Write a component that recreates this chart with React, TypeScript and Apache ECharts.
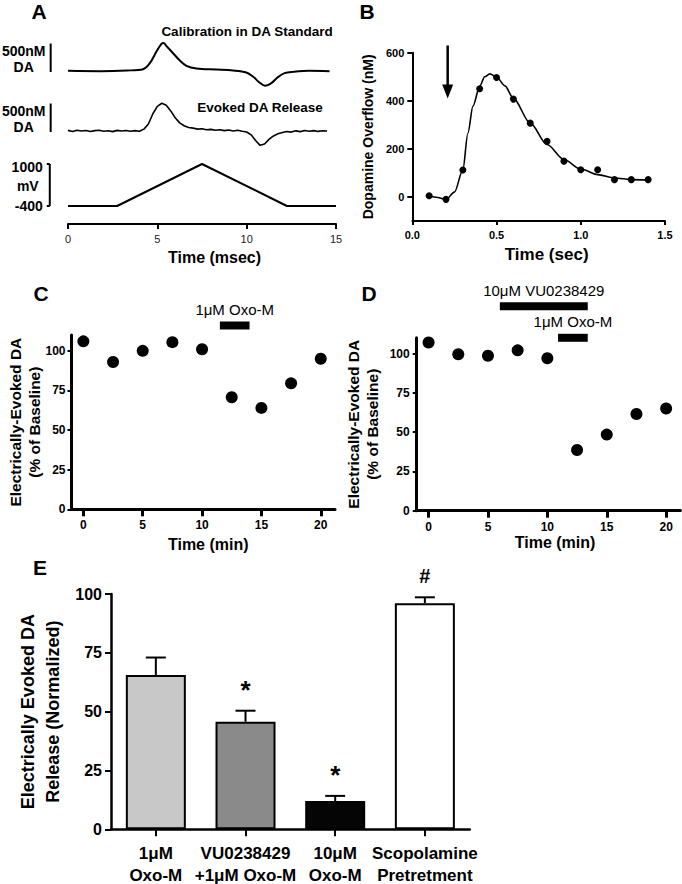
import React, { useEffect, useRef } from "react";
import * as echarts from "echarts";

const FONT = '"Liberation Sans", Arial, Helvetica, sans-serif';
const BLACK = "#000000";

// ---------------- Panel A (FSCV traces) ----------------
const calibTimeMs = [0, 1.8, 3.3, 4.2, 4.58, 4.95, 5.23, 5.35, 5.5, 5.88, 6.26, 6.63, 7.19, 8.3, 9.24, 9.98, 10.35, 10.7, 11.04, 11.38, 11.75, 12.12, 12.6, 13.5, 14.64];
const calibDA_nM = [0, -6, 6, 29, 134, 339, 474, 490, 439, 310, 181, 88, 41, 23, 6, -29, -99, -199, -263, -216, -111, -41, -18, 0, -6];
const evokedTimeMs = [0, 0.25, 0.5, 0.75, 1, 1.25, 1.5, 1.75, 2, 2.25, 2.5, 2.75, 3, 3.25, 3.5, 3.75, 4, 4.25, 4.5, 4.75, 5, 5.25, 5.5, 5.75, 6, 6.25, 6.5, 6.75, 7, 7.25, 7.5, 7.75, 8, 8.25, 8.5, 8.75, 9, 9.25, 9.5, 9.75, 10, 10.25, 10.5, 10.75, 11, 11.25, 11.5, 11.75, 12, 12.25, 12.5, 12.75, 13, 13.25, 13.5, 13.75, 14, 14.25, 14.5];
const evokedDA_nM = [8, -10, 12, -4, 6, -12, 4, 10, -6, 2, -14, 8, -2, 6, -8, 4, -6, 30, 120, 300, 430, 485, 450, 350, 230, 140, 90, 60, 48, 30, 38, 18, 26, 10, 20, 4, 14, -2, 10, -6, -20, -70, -170, -255, -230, -150, -90, -50, -30, -12, -22, 0, -14, 6, -8, 4, -10, 2, -4];
const rampTimeMs = [0, 2.75, 7.5, 12.25, 15];
const rampVoltage_mV = [-400, -400, 1000, -400, -400];
const scaleBarTimeMs = -0.97;
const daScaleBar_nM = [-20, 480];
const voltageScaleBar_mV = [-400, 1000];

// ---------------- Panel B (overflow vs time) ----------------
const overflowTimeSec = [0.1, 0.2, 0.3, 0.4, 0.5, 0.6, 0.7, 0.8, 0.9, 1.0, 1.1, 1.2, 1.3, 1.4];
const overflow_nM = [5, -10, 112, 450, 497, 407, 307, 232, 149, 113, 113, 72, 72, 72];
const fitTimeSec = [0.1, 0.15, 0.2, 0.25, 0.3, 0.33, 0.36, 0.4, 0.43, 0.46, 0.5, 0.55, 0.6, 0.7, 0.8, 0.9, 1.0, 1.1, 1.2, 1.3, 1.4];
const fit_nM = [5, -2, -11, 20, 112, 265, 378, 460, 500, 512, 499, 462, 410, 307, 218, 156, 116, 93, 79, 72, 70];
const overflowTicks = [0, 200, 400, 600];
const stimulusArrow = [0.21, 630, 410]; // time, from nM, to nM

// ---------------- Panels C & D (time course) ----------------
const timeMin = [0, 2.5, 5, 7.5, 10, 12.5, 15, 17.5, 20];
const oxoPct = [106, 93, 100, 105.5, 101, 70.7, 64, 79.5, 95];
const vuOxoPct = [107, 99.5, 98.6, 102, 97, 38.6, 48.4, 61.5, 65];
const minTicks = [0, 5, 10, 15, 20];
const pctTicks = [0, 25, 50, 75, 100];
const drugLabelsC = ["1μM Oxo-M"];
const drugBarsC = [[11.5, 14.0, 116]];
const drugLabelsD = ["10μM VU0238429", "1μM Oxo-M"];
const drugBarsD = [[6.0, 13.4, 130], [10.9, 13.4, 110]];

// ---------------- Panel E (bars) ----------------
const treatments = ["1μM\nOxo-M", "VU0238429\n+1μM Oxo-M", "10μM\nOxo-M", "Scopolamine\nPretretment"];
const releaseMean = [65.6, 45.7, 12.0, 96.1];
const releaseSEM = [7.4, 4.7, 2.2, 2.5];
const significance = ["", "*", "*", "#"];
const barColors = ["#c8c8c8", "#8a8a8a", "#050505", "#ffffff"];

const zip = (a: number[], b: number[]) => a.map((v, i) => [v, b[i]]);

const txt = (size: number, bold = true, color = BLACK) => ({
  fontFamily: FONT,
  fontSize: size,
  fontWeight: bold ? "bold" : "normal",
  color,
});

const hiddenX = (g: number, min: number, max: number) => ({ gridIndex: g, type: "value", min, max, show: false });
const hiddenY = (g: number, min: number, max: number) => ({ gridIndex: g, type: "value", min, max, show: false });

function buildOption(): any {
  const grids = [
    { left: 68, top: 31, width: 268, height: 74 },
    { left: 68, top: 91, width: 268, height: 74 },
    { left: 68, top: 149, width: 268, height: 75 },
    { left: 412.3, top: 52.7, width: 252.7, height: 168.3 },
    { left: 71.5, top: 335, width: 263.5, height: 174.3 },
    { left: 416.7, top: 337.8, width: 263.7, height: 172.9 },
    { left: 111, top: 594, width: 358.7, height: 235.3 },
  ].map((g) => ({ ...g, containLabel: false, outerBoundsMode: "none", show: false }));

  const line = (w: number) => ({ show: true, onZero: false, lineStyle: { color: BLACK, width: w } });
  const tick = (len: number, w: number, custom?: number[]) => ({
    show: true,
    inside: false,
    length: len,
    lineStyle: { color: BLACK, width: w },
    ...(custom ? { customValues: custom } : {}),
  });

  const xAxes = [
    hiddenX(0, 0, 15),
    hiddenX(1, 0, 15),
    {
      gridIndex: 2, type: "value", min: 0, max: 15, interval: 5,
      axisLine: line(2), axisTick: tick(5, 2), splitLine: { show: false },
      axisLabel: { margin: 9, ...txt(11, false, "#222") },
      name: "Time (msec)", nameLocation: "middle", nameGap: 25, nameMoveOverlap: false,
      nameTextStyle: { ...txt(16), padding: [0, 0, 0, 25] },
    },
    {
      gridIndex: 3, type: "value", min: 0, max: 1.5, interval: 0.5,
      axisLine: line(2), axisTick: tick(4, 2), splitLine: { show: false },
      axisLabel: { margin: 8, formatter: (v: number) => v.toFixed(1), ...txt(11) },
      name: "Time (sec)", nameLocation: "middle", nameGap: 25, nameMoveOverlap: false,
      nameTextStyle: { ...txt(17), padding: [0, 0, 0, 16] },
    },
    {
      gridIndex: 4, type: "value", min: -1, max: 21.2,
      axisLine: line(3), axisTick: tick(7, 3, minTicks), splitLine: { show: false },
      axisLabel: { margin: 10, customValues: minTicks, ...txt(12) },
      name: "Time (min)", nameLocation: "middle", nameGap: 27, nameMoveOverlap: false,
      nameTextStyle: { ...txt(16), padding: [0, 0, 0, 10] },
    },
    {
      gridIndex: 5, type: "value", min: -1, max: 21.2,
      axisLine: line(3), axisTick: tick(7, 3, minTicks), splitLine: { show: false },
      axisLabel: { margin: 10, customValues: minTicks, ...txt(12) },
      name: "Time (min)", nameLocation: "middle", nameGap: 24, nameMoveOverlap: false,
      nameTextStyle: { ...txt(16), padding: [0, 0, 0, 13] },
    },
    {
      gridIndex: 6, type: "category", data: treatments, boundaryGap: true,
      axisLine: line(2.5), axisTick: { ...tick(7, 2), alignWithLabel: true, interval: 0 },
      axisLabel: { margin: 13, interval: 0, lineHeight: 22, ...txt(17) },
      splitLine: { show: false },
    },
  ];

  const yAxes = [
    hiddenY(0, -600, 700),
    hiddenY(1, -600, 700),
    hiddenY(2, -1000, 1500),
    {
      gridIndex: 3, type: "value", min: -100, max: 600,
      axisLine: line(2), axisTick: tick(5, 2, overflowTicks), splitLine: { show: false },
      axisLabel: { margin: 8, customValues: overflowTicks, ...txt(11) },
      name: "Dopamine Overflow (nM)", nameLocation: "middle", nameGap: 37, nameMoveOverlap: false,
      nameTextStyle: { ...txt(14) },
    },
    {
      gridIndex: 4, type: "value", min: 0, max: 110,
      axisLine: line(3), axisTick: tick(4, 2, pctTicks), splitLine: { show: false },
      axisLabel: { margin: 6, customValues: pctTicks, ...txt(12) },
      name: "Electrically-Evoked DA\n(% of Baseline)", nameLocation: "middle", nameGap: 28, nameMoveOverlap: false,
      nameTextStyle: { ...txt(15.5), lineHeight: 19 },
    },
    {
      gridIndex: 5, type: "value", min: 0, max: 110,
      axisLine: line(3), axisTick: tick(4, 2, pctTicks), splitLine: { show: false },
      axisLabel: { margin: 7, customValues: pctTicks, ...txt(12) },
      name: "Electrically-Evoked DA\n(% of Baseline)", nameLocation: "middle", nameGap: 35, nameMoveOverlap: false,
      nameTextStyle: { ...txt(15.5), lineHeight: 19 },
    },
    {
      gridIndex: 6, type: "value", min: 0, max: 100, interval: 25,
      axisLine: line(2.5), axisTick: tick(6, 2), splitLine: { show: false },
      axisLabel: { margin: 9, ...txt(16) },
      name: "Electrically Evoked DA\nRelease (Normalized)", nameLocation: "middle", nameGap: 46, nameMoveOverlap: false,
      nameTextStyle: { ...txt(18), lineHeight: 25 },
    },
  ];

  const textStyle = (size: number, bold: boolean, align: string, vAlign: string, extra: any = {}) => ({
    fontFamily: FONT, fontSize: size, fontWeight: bold ? "bold" : "normal", fill: BLACK,
    align, textAlign: align, verticalAlign: vAlign, textVerticalAlign: vAlign, ...extra,
  });

  const daScaleSeries = (g: number) => ({
    type: "custom", xAxisIndex: g, yAxisIndex: g, silent: true,
    dimensions: ["t", "low", "high"], encode: { x: 0, y: [1, 2] },
    data: [[scaleBarTimeMs, daScaleBar_nM[0], daScaleBar_nM[1]]],
    renderItem: (_p: any, api: any) => {
      const lo = api.coord([api.value(0), api.value(1)]);
      const hi = api.coord([api.value(0), api.value(2)]);
      const span = api.value(2) - api.value(1);
      return {
        type: "group",
        children: [
          { type: "line", shape: { x1: lo[0], y1: lo[1], x2: hi[0], y2: hi[1] }, style: { stroke: BLACK, lineWidth: 2 } },
          { type: "text", style: { text: `${span}nM\nDA`, x: lo[0] - 27, y: (lo[1] + hi[1]) / 2 + 1, ...textStyle(14, true, "center", "middle", { lineHeight: 16.5 }) } },
        ],
      };
    },
  });

  const dot = (size: number) => ({ symbol: "circle", symbolSize: size, itemStyle: { color: BLACK, opacity: 1 } });

  const series: any[] = [
    // Panel A
    {
      type: "line", xAxisIndex: 0, yAxisIndex: 0, data: zip(calibTimeMs, calibDA_nM),
      smooth: 0.35, showSymbol: false, symbol: "none", lineStyle: { color: BLACK, width: 2 },
    },
    {
      type: "line", xAxisIndex: 1, yAxisIndex: 1, data: zip(evokedTimeMs, evokedDA_nM),
      smooth: false, showSymbol: false, symbol: "none", lineStyle: { color: BLACK, width: 1.6 },
    },
    {
      type: "line", xAxisIndex: 2, yAxisIndex: 2, data: zip(rampTimeMs, rampVoltage_mV),
      showSymbol: false, symbol: "none", lineStyle: { color: BLACK, width: 2 },
    },
    daScaleSeries(0),
    daScaleSeries(1),
    {
      type: "custom", xAxisIndex: 2, yAxisIndex: 2, silent: true,
      dimensions: ["t", "low", "high"], encode: { x: 0, y: [1, 2] },
      data: [[scaleBarTimeMs - 0.05, voltageScaleBar_mV[0], voltageScaleBar_mV[1]]],
      renderItem: (_p: any, api: any) => {
        const lo = api.coord([api.value(0), api.value(1)]);
        const hi = api.coord([api.value(0), api.value(2)]);
        return {
          type: "group",
          children: [
            { type: "line", shape: { x1: lo[0], y1: lo[1], x2: hi[0], y2: hi[1] }, style: { stroke: BLACK, lineWidth: 2 } },
            { type: "line", shape: { x1: lo[0] - 3, y1: lo[1], x2: lo[0], y2: lo[1] }, style: { stroke: BLACK, lineWidth: 2 } },
            { type: "line", shape: { x1: hi[0] - 3, y1: hi[1], x2: hi[0], y2: hi[1] }, style: { stroke: BLACK, lineWidth: 2 } },
            { type: "text", style: { text: String(api.value(2)), x: hi[0] - 7, y: hi[1] + 3, ...textStyle(14, true, "right", "middle") } },
            { type: "text", style: { text: "mV", x: hi[0] - 22, y: (lo[1] + hi[1]) / 2 + 1, ...textStyle(14, true, "center", "middle") } },
            { type: "text", style: { text: String(api.value(1)), x: lo[0] - 7, y: lo[1], ...textStyle(14, true, "right", "middle") } },
          ],
        };
      },
    },
    // Panel B
    {
      type: "line", xAxisIndex: 3, yAxisIndex: 3, data: zip(fitTimeSec, fit_nM),
      smooth: 0.3, smoothMonotone: "x", showSymbol: false, symbol: "none", lineStyle: { color: BLACK, width: 1.6 },
    },
    { type: "scatter", xAxisIndex: 3, yAxisIndex: 3, data: zip(overflowTimeSec, overflow_nM), ...dot(7) },
    {
      type: "custom", xAxisIndex: 3, yAxisIndex: 3, silent: true,
      dimensions: ["t", "from", "to"], encode: { x: 0, y: [1, 2] },
      data: [stimulusArrow],
      renderItem: (_p: any, api: any) => {
        const a = api.coord([api.value(0), api.value(1)]);
        const b = api.coord([api.value(0), api.value(2)]);
        return {
          type: "group",
          children: [
            { type: "line", shape: { x1: a[0], y1: a[1], x2: b[0], y2: b[1] - 8 }, style: { stroke: BLACK, lineWidth: 2.5 } },
            { type: "polygon", shape: { points: [[b[0] - 5.5, b[1] - 14], [b[0] + 5.5, b[1] - 14], [b[0], b[1]]] }, style: { fill: BLACK } },
          ],
        };
      },
    },
    // Panel C
    { type: "scatter", xAxisIndex: 4, yAxisIndex: 4, data: zip(timeMin, oxoPct), ...dot(12) },
    // Panel D
    { type: "scatter", xAxisIndex: 5, yAxisIndex: 5, data: zip(timeMin, vuOxoPct), ...dot(12) },
  ];

  const drugSeries = (g: number, bars: number[][], labels: string[]) => ({
    type: "custom", xAxisIndex: g, yAxisIndex: g, silent: true, clip: false,
    dimensions: ["start", "end", "level"], encode: { x: [0, 1], y: 2 },
    data: bars,
    renderItem: (p: any, api: any) => {
      const s = api.coord([api.value(0), api.value(2)]);
      const e = api.coord([api.value(1), api.value(2)]);
      const h = 8;
      return {
        type: "group",
        children: [
          { type: "rect", shape: { x: s[0], y: s[1] - h / 2, width: e[0] - s[0], height: h }, style: { fill: BLACK } },
          { type: "text", style: { text: labels[p.dataIndex], x: (s[0] + e[0]) / 2, y: s[1] - h / 2 - 12, ...textStyle(15, false, "center", "middle") } },
        ],
      };
    },
  });
  series.push(drugSeries(4, drugBarsC, drugLabelsC));
  series.push(drugSeries(5, drugBarsD, drugLabelsD));

  // Panel E
  series.push({
    type: "bar", xAxisIndex: 6, yAxisIndex: 6, barWidth: 60,
    data: releaseMean.map((v, i) => ({ value: v, itemStyle: { color: barColors[i] } })),
    itemStyle: { borderColor: BLACK, borderWidth: 2, opacity: 1 },
  });
  series.push({
    type: "custom", xAxisIndex: 6, yAxisIndex: 6, silent: true, z: 5,
    dimensions: ["idx", "mean", "upper"], encode: { x: 0, y: [1, 2] },
    data: releaseMean.map((m, i) => [i, m, m + releaseSEM[i]]),
    renderItem: (p: any, api: any) => {
      const top = api.coord([api.value(0), api.value(1)]);
      const up = api.coord([api.value(0), api.value(2)]);
      const sig = significance[p.dataIndex];
      const children: any[] = [
        { type: "line", shape: { x1: top[0], y1: top[1], x2: up[0], y2: up[1] }, style: { stroke: BLACK, lineWidth: 2 } },
        { type: "line", shape: { x1: up[0] - 10, y1: up[1], x2: up[0] + 10, y2: up[1] }, style: { stroke: BLACK, lineWidth: 2 } },
      ];
      if (sig) {
        children.push({ type: "text", style: { text: sig, x: up[0], y: up[1] - 21, ...textStyle(sig === "*" ? 26 : 20, true, "center", "middle") } });
      }
      return { type: "group", children };
    },
  });

  const gtext = (text: string, x: number, y: number, size: number, bold = true) => ({
    type: "text", x, y, silent: true,
    style: { text, ...textStyle(size, bold, "center", "middle") },
  });

  return {
    animation: false,
    backgroundColor: "#ffffff",
    textStyle: { fontFamily: FONT },
    grid: grids,
    xAxis: xAxes,
    yAxis: yAxes,
    series,
    graphic: [
      gtext("A", 39, 11, 21),
      gtext("B", 367, 11, 21),
      gtext("C", 41, 293, 21),
      gtext("D", 369, 293, 21),
      gtext("E", 40, 567, 21),
      gtext("Calibration in DA Standard", 247, 31, 13.5),
      gtext("Evoked DA Release", 260, 107, 13.5),
    ],
  };
}

export default function App() {
  const ref = useRef<HTMLDivElement>(null);
  useEffect(() => {
    if (!ref.current) return;
    const chart = echarts.init(ref.current, null, { renderer: "svg" });
    chart.setOption(buildOption());
    return () => chart.dispose();
  }, []);
  return (
    <div
      ref={ref}
      style={{ position: "fixed", left: 0, top: 0, width: 682, height: 884, background: "#ffffff" }}
    />
  );
}
